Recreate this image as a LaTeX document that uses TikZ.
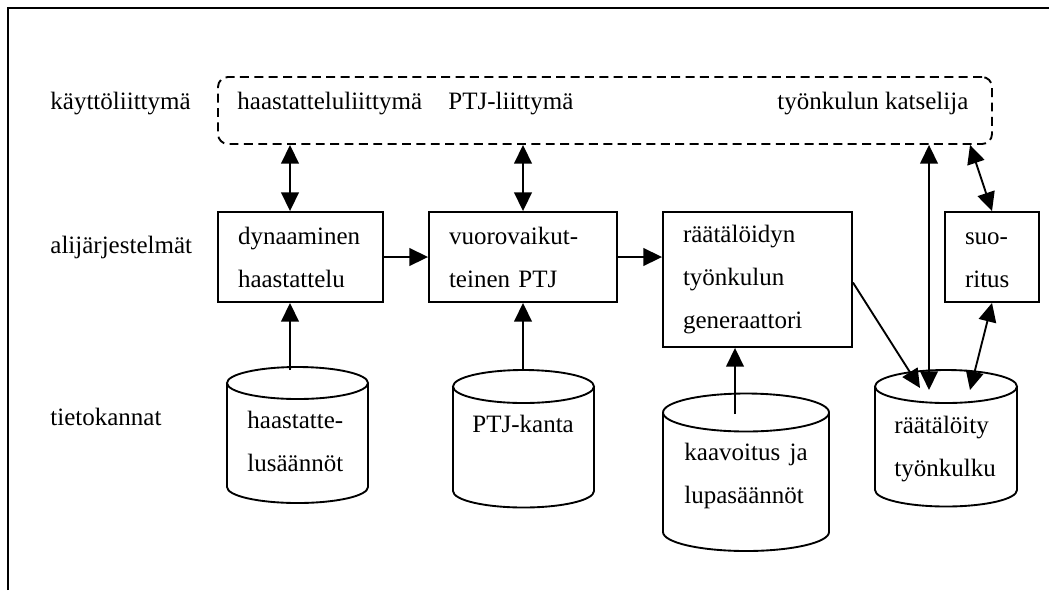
\documentclass[tikz,border=0pt]{standalone}
\usepackage{fontspec}
\setmainfont{Liberation Serif}
\usetikzlibrary{arrows.meta,calc}

% database cylinder: name, centre x, top ellipse y, bottom ellipse y, x radius, y radius
\newcommand\dbcyl[6]{%
  \coordinate (#1) at (#2,-#3);
  \draw[cylline] (#2,-#3) ellipse [x radius=#5, y radius=#6];
  \draw[cylline] (#2-#5,-#3) -- (#2-#5,-#4)
     arc[start angle=180, end angle=360, x radius=#5, y radius=#6]
     -- (#2+#5,-#3);
}

\begin{document}
\begin{tikzpicture}[x=0.48pt, y=0.48pt,
  every node/.style={font=\fontsize{12}{20.64}\selectfont},
  cylline/.style={line width=0.9pt},
  stagebox/.style={draw, line width=0.9pt, inner xsep=9.6pt, inner ysep=0pt,
                   align=left, minimum height=43.2pt},
  uibox/.style={draw, line width=0.9pt, dash pattern=on 4.3pt off 2.6pt,
                rounded corners=4.8pt, inner sep=0pt},
  lbl/.style={anchor=base west, inner sep=0pt},
  dbtext/.style={anchor=base west, inner sep=0pt, align=left, text width=70pt},
  tip/.tip={Triangle[length=9pt, width=8.5pt]},
  arr/.style={line width=0.9pt, -tip},
  dbl/.style={line width=0.9pt, tip-tip}
]
\useasboundingbox (0,0) rectangle (1049,-590);

% page frame
\draw[line width=1.2pt] (8,-590) -- (8,-8) -- (1049,-8);

% layer labels
\node[lbl] (lay-ui)  at (50,-109) {käyttöliittymä};
\node[lbl] (lay-sub) at (50,-253) {alijärjestelmät};
\node[lbl] (lay-db)  at (50,-425) {tietokannat};

% user interface layer
\node[uibox, minimum width=371.52pt, minimum height=32.16pt] (ui) at (605,-110.5) {};
\node[lbl] (ui-h) at (237,-109) {haastatteluliittymä};
\node[lbl] (ui-p) at (448,-109) {PTJ-liittymä};
\node[lbl] (ui-t) at (777,-109) {työnkulun katselija};

% subsystems
\node[stagebox, text width=60pt] (box1) at (300.5,-257)
  {dynaaminen\\haastattelu};
\node[stagebox, text width=71.04pt] (box2) at (523,-257)
  {vuorovaikut-\\teinen PTJ};
\node[stagebox, text width=71.52pt, minimum height=64.8pt] (box3) at (757.5,-279.5)
  {räätälöidyn\\työnkulun\\generaattori\vphantom{\"A}};
\node[stagebox, text width=25.92pt] (box4) at (992,-257)
  {suo-\vphantom{d}\\ritus};

% databases
\dbcyl{db1}{297.5}{383}{487}{70.5}{16}
\dbcyl{db2}{523.5}{386.5}{491}{70.5}{16.5}
\dbcyl{db3}{746}{412.5}{532}{83}{19}
\dbcyl{db4}{946}{386.5}{490}{71}{16.5}

\node[dbtext] (db1-t) at (247,-428) {haastatte-\\lusäännöt};
\node[dbtext] (db2-t) at (472,-432) {PTJ-kanta};
\node[dbtext] (db3-t) at (684,-460) {kaavoitus\hspace{4.5pt}ja\\lupasäännöt};
\node[dbtext] (db4-t) at (894,-433) {räätälöity\\työnkulku};

% connector ends on the databases and the interface bar
\coordinate (c1in) at (290,-370);
\coordinate (c2in) at (523,-371);
\coordinate (c3in) at (735,-414);
\coordinate (c4a)  at (920,-388);
\coordinate (c4b)  at (929,-390);
\coordinate (c4c)  at (970,-390);
\coordinate (uiA)  at ($(ui.south)+(365,0)$);

% connectors
\draw[dbl] (ui.south -| c1in) -- (box1.north -| c1in);
\draw[dbl] (ui.south -| c2in) -- (box2.north -| c2in);
\draw[arr] (box1.east) -- (box2.west);
\draw[arr] (box2.east) -- (box2.east -| box3.west);
\draw[arr] (c1in) -- (c1in |- box1.south);
\draw[arr] (c2in) -- (c2in |- box2.south);
\draw[arr] (c3in) -- (c3in |- box3.south);
\draw[arr] ($(box3.east)+(0,-3)$) -- (c4a);
\draw[dbl] (c4b) -- (c4b |- ui.south);
\draw[dbl] (uiA) -- (box4.north);
\draw[dbl] (box4.south) -- (c4c);
\end{tikzpicture}
\end{document}
